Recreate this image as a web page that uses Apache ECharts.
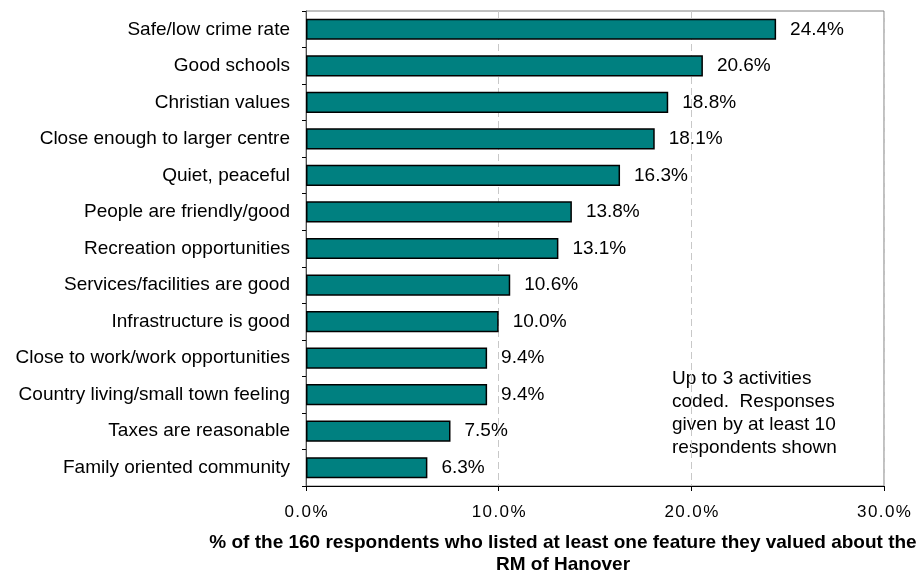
<!DOCTYPE html>
<html><head><meta charset="utf-8">
<script src="https://cdn.jsdelivr.net/npm/echarts@6/dist/echarts.min.js"></script>
<style>html,body{margin:0;padding:0;background:#fff}#c{width:919px;height:573px}</style>
</head><body><div id="c"></div>
<script>
const categories = ["Safe/low crime rate","Good schools","Christian values","Close enough to larger centre","Quiet, peaceful","People are friendly/good","Recreation opportunities","Services/facilities are good","Infrastructure is good","Close to work/work opportunities","Country living/small town feeling","Taxes are reasonable","Family oriented community"];
const values = [24.4,20.6,18.8,18.1,16.3,13.8,13.1,10.6,10.0,9.4,9.4,7.5,6.3];
const xTicks = [0,10,20,30];
const note = "Up to 3 activities\ncoded.  Responses\ngiven by at least 10\nrespondents shown";
const axisTitle = "% of the 160 respondents who listed at least one feature they valued about the\nRM of Hanover";

const spaced = s => s.split('').join('\u200A');
const chart = echarts.init(document.getElementById('c'), null, {renderer:'canvas'});
chart.setOption({
  animation:false,
  grid:{left:306,right:35,top:11,bottom:87,show:true,borderColor:'#808080',borderWidth:1,backgroundColor:'transparent'},
  xAxis:{type:'value',min:xTicks[0],max:xTicks[xTicks.length-1],interval:10,
    axisLine:{show:true,lineStyle:{color:'#000',width:1}},
    axisTick:{show:true,length:5,lineStyle:{color:'#000'}},
    axisLabel:{formatter:v=>spaced(v.toFixed(1)+'%'),fontFamily:'Liberation Sans, Arial',fontSize:17,color:'#000',margin:18},
    splitLine:{show:true,lineStyle:{color:'#c8c8c8',type:[7,4],width:1}}
  },
  yAxis:{type:'category',data:categories,inverse:true,
    axisLine:{show:true,lineStyle:{color:'#505050'}},
    axisTick:{show:true,length:4,lineStyle:{color:'#000'}},
    axisLabel:{fontFamily:'Liberation Sans, Arial',fontSize:19,color:'#000',margin:16}
  },
  series:[{type:'bar',data:values,barCategoryGap:'42%',
    itemStyle:{color:'#008080',borderColor:'#000',borderWidth:1.5},
    label:{show:true,position:'right',distance:14,formatter:p=>p.value.toFixed(1)+'%',fontFamily:'Liberation Sans, Arial',fontSize:19,color:'#000'}
  }],
  graphic:[
    {type:'text',left:672,top:367,style:{text:note,font:'19px "Liberation Sans", Arial',fill:'#000',lineHeight:23}},
    {type:'text',x:563,y:532,style:{text:axisTitle,font:'bold 19px "Liberation Sans", Arial',fill:'#000',align:'center',lineHeight:22}}
  ]
});
</script></body></html>
